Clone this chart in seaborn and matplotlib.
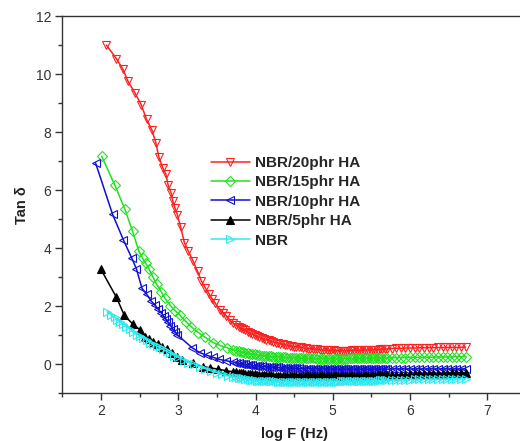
import numpy as np
import pandas as pd
import matplotlib
matplotlib.use("Agg")
import matplotlib.pyplot as plt
import seaborn as sns
from matplotlib.ticker import MultipleLocator

sns.set_style("ticks")
plt.rcParams['font.family'] = ['Liberation Sans', 'DejaVu Sans']

# shared high-frequency x grid (log F)
tail_x = [3.75, 3.78, 3.81, 3.84, 3.87, 3.90, 3.93, 3.96, 3.99, 4.02,
          4.05, 4.08, 4.11, 4.14, 4.17, 4.20, 4.23, 4.26, 4.29, 4.32,
          4.35, 4.38, 4.41, 4.44, 4.47, 4.50, 4.53, 4.56, 4.59, 4.62,
          4.65, 4.68, 4.71, 4.74, 4.77, 4.80, 4.83, 4.86, 4.89, 4.92,
          4.95, 4.98, 5.01, 5.04, 5.07, 5.10, 5.13, 5.16, 5.19, 5.22,
          5.25, 5.28, 5.31, 5.34, 5.37, 5.40, 5.43, 5.46, 5.49, 5.52,
          5.55, 5.58, 5.61, 5.64, 5.67, 5.70,
          5.76, 5.82, 5.88, 5.94, 6.00, 6.06, 6.12, 6.18, 6.24, 6.30, 6.36, 6.42, 6.48,
          6.54, 6.60, 6.66, 6.72]

# NBR/20phr HA
hx_20 = [2.07, 2.20, 2.28, 2.35, 2.44, 2.52, 2.59, 2.66, 2.71, 2.75, 2.80, 2.84, 2.87, 2.91,
         2.93, 2.96, 2.99, 3.03, 3.08, 3.13, 3.19, 3.25, 3.30, 3.35, 3.40, 3.44, 3.48, 3.54,
         3.58, 3.62, 3.67, 3.71]
hy_20 = [11.0, 10.53, 10.19, 9.75, 9.35, 8.95, 8.44, 8.07, 7.64, 7.13, 6.77, 6.55, 6.17, 5.89,
         5.62, 5.37, 5.14, 4.74, 4.19, 3.90, 3.57, 3.20, 2.87, 2.63, 2.42, 2.25, 2.10, 1.88,
         1.78, 1.67, 1.52, 1.42]
ty_20 = [1.35, 1.30, 1.25, 1.21, 1.17, 1.12, 1.08, 1.04, 1.00, 0.96,
         0.93, 0.90, 0.87, 0.85, 0.82, 0.79, 0.77, 0.75, 0.73, 0.71,
         0.69, 0.67, 0.66, 0.64, 0.62, 0.61, 0.60, 0.59, 0.58, 0.57,
         0.55, 0.54, 0.54, 0.53, 0.52, 0.51, 0.50, 0.50, 0.49, 0.49,
         0.48, 0.48, 0.48, 0.47, 0.47, 0.47, 0.47, 0.47, 0.47, 0.47,
         0.48, 0.48, 0.48, 0.48, 0.48, 0.49, 0.49, 0.49, 0.49, 0.50,
         0.50, 0.50, 0.51, 0.51, 0.52, 0.53,
         0.54, 0.55, 0.55, 0.56, 0.56, 0.56, 0.57, 0.57, 0.57, 0.57, 0.58, 0.58, 0.58, 0.58,
         0.58, 0.59, 0.59]

# NBR/15phr HA
hx_15 = [2.01, 2.18, 2.31, 2.41, 2.49, 2.54, 2.58, 2.62, 2.67, 2.72, 2.78, 2.83, 2.90, 2.96,
         3.02, 3.10, 3.17, 3.26, 3.35, 3.45, 3.54, 3.63, 3.71]
hy_15 = [7.17, 6.17, 5.34, 4.58, 3.90, 3.65, 3.48, 3.30, 3.02, 2.76, 2.50, 2.27, 2.02, 1.85,
         1.70, 1.47, 1.29, 1.09, 0.93, 0.75, 0.65, 0.57, 0.50]
ty_15 = [0.47, 0.45, 0.43, 0.41, 0.39, 0.38, 0.36, 0.35, 0.34, 0.32,
         0.31, 0.30, 0.29, 0.29, 0.28, 0.27, 0.26, 0.26, 0.25, 0.25,
         0.24, 0.24, 0.23, 0.23, 0.22, 0.22, 0.22, 0.21, 0.21, 0.21,
         0.20, 0.20, 0.20, 0.20, 0.20, 0.19, 0.19, 0.19, 0.19, 0.19,
         0.19, 0.19, 0.19, 0.19, 0.19, 0.19, 0.19, 0.19, 0.19, 0.20,
         0.20, 0.20, 0.20, 0.20, 0.20, 0.21, 0.21, 0.21, 0.21, 0.21,
         0.22, 0.22, 0.22, 0.22, 0.22, 0.22,
         0.23, 0.23, 0.23, 0.23, 0.24, 0.24, 0.24, 0.24, 0.24, 0.25, 0.25, 0.25, 0.25, 0.25,
         0.26, 0.26, 0.26]

# NBR/10phr HA
hx_10 = [1.93, 2.15, 2.29, 2.40, 2.46, 2.53, 2.59, 2.65, 2.70, 2.74, 2.78, 2.81, 2.84, 2.87,
         2.90, 2.93, 2.96, 2.99, 3.18, 3.28, 3.37, 3.45, 3.53, 3.62, 3.71]
hy_10 = [6.94, 5.17, 4.29, 3.65, 3.28, 2.62, 2.42, 2.18, 2.04, 1.90, 1.78, 1.66, 1.55, 1.45,
         1.33, 1.22, 1.12, 1.01, 0.57, 0.40, 0.31, 0.24, 0.17, 0.12, 0.08]
ty_10 = [0.05, 0.04, 0.02, 0.01, 0.00, -0.01, -0.02, -0.04, -0.05, -0.06,
         -0.07, -0.07, -0.08, -0.09, -0.09, -0.10, -0.10, -0.11, -0.11, -0.12,
         -0.12, -0.13, -0.13, -0.13, -0.14, -0.14, -0.14, -0.14, -0.15, -0.15,
         -0.15, -0.15, -0.15, -0.16, -0.16, -0.16, -0.16, -0.16, -0.16, -0.16,
         -0.17, -0.17, -0.17, -0.17, -0.17, -0.17, -0.17, -0.17, -0.17, -0.17,
         -0.17, -0.17, -0.17, -0.17, -0.17, -0.17, -0.17, -0.17, -0.17, -0.17,
         -0.17, -0.17, -0.17, -0.17, -0.17, -0.17,
         -0.16, -0.16, -0.16, -0.16, -0.16, -0.16, -0.16, -0.16, -0.16, -0.16, -0.16, -0.16,
         -0.16, -0.16, -0.16, -0.16, -0.16]

# NBR/5phr HA
hx_5 = [2.00, 2.20, 2.30, 2.41, 2.51, 2.57, 2.62, 2.68, 2.74, 2.79, 2.85, 2.92, 2.99, 3.05,
        3.19, 3.32, 3.41, 3.52, 3.62, 3.71]
hy_5 = [3.27, 2.31, 1.70, 1.39, 1.18, 0.95, 0.86, 0.78, 0.69, 0.61, 0.52, 0.38, 0.26, 0.15,
        0.03, -0.08, -0.12, -0.17, -0.22, -0.26]
ty_5 = [-0.28, -0.29, -0.30, -0.31, -0.32, -0.33, -0.34, -0.34, -0.35, -0.36,
        -0.36, -0.37, -0.37, -0.38, -0.38, -0.38, -0.39, -0.39, -0.39, -0.40,
        -0.40, -0.40, -0.40, -0.41, -0.41, -0.41, -0.41, -0.41, -0.41, -0.42,
        -0.42, -0.42, -0.42, -0.42, -0.42, -0.42, -0.42, -0.42, -0.42, -0.42,
        -0.42, -0.42, -0.42, -0.42, -0.42, -0.41, -0.41, -0.41, -0.41, -0.41,
        -0.41, -0.40, -0.40, -0.40, -0.40, -0.40, -0.39, -0.39, -0.39, -0.39,
        -0.39, -0.38, -0.38, -0.38, -0.38, -0.38,
        -0.37, -0.37, -0.36, -0.36, -0.35, -0.35, -0.34, -0.34, -0.33, -0.33, -0.33, -0.32,
        -0.32, -0.31, -0.31, -0.30, -0.30]

# NBR
hx_0 = [2.08, 2.13, 2.18, 2.21, 2.25, 2.29, 2.33, 2.38, 2.42, 2.47, 2.51, 2.55, 2.60, 2.64,
        2.68, 2.72, 2.76, 2.80, 2.85, 2.90, 2.95, 3.00, 3.07, 3.13, 3.20, 3.28, 3.35, 3.42,
        3.50, 3.57, 3.64, 3.71]
hy_0 = [1.81, 1.70, 1.62, 1.53, 1.46, 1.39, 1.30, 1.22, 1.10, 1.02, 0.96, 0.91, 0.84, 0.74,
        0.69, 0.64, 0.58, 0.52, 0.45, 0.38, 0.30, 0.24, 0.15, 0.06, 0.02, -0.08, -0.15, -0.22,
        -0.29, -0.35, -0.40, -0.43]
ty_0 = [-0.45, -0.46, -0.48, -0.49, -0.50, -0.52, -0.53, -0.54, -0.55, -0.56,
        -0.56, -0.57, -0.57, -0.58, -0.58, -0.59, -0.59, -0.59, -0.60, -0.60,
        -0.60, -0.60, -0.60, -0.60, -0.60, -0.60, -0.60, -0.60, -0.60, -0.60,
        -0.60, -0.60, -0.60, -0.60, -0.60, -0.60, -0.60, -0.60, -0.60, -0.60,
        -0.60, -0.60, -0.60, -0.60, -0.60, -0.59, -0.59, -0.59, -0.59, -0.59,
        -0.58, -0.58, -0.58, -0.58, -0.57, -0.57, -0.57, -0.57, -0.56, -0.56,
        -0.56, -0.56, -0.55, -0.55, -0.55, -0.55,
        -0.54, -0.54, -0.53, -0.53, -0.53, -0.52, -0.52, -0.52, -0.52, -0.51, -0.51, -0.51,
        -0.51, -0.50, -0.50, -0.50, -0.50]

labels = ["NBR/20phr HA", "NBR/15phr HA", "NBR/10phr HA", "NBR/5phr HA", "NBR"]
series = [(hx_20, hy_20, ty_20), (hx_15, hy_15, ty_15), (hx_10, hy_10, ty_10),
          (hx_5, hy_5, ty_5), (hx_0, hy_0, ty_0)]
colors = ["#ff2020", "#22e022", "#1010d0", "#000000", "#30e8f0"]
markers = ["v", "D", "<", "^", ">"]
msizes = [6, 5, 6, 6, 6]
filled = [False, False, False, True, False]

fig = plt.figure(figsize=(5.20, 4.41), dpi=100)
ax = fig.add_axes([62.3 / 520, 1 - 393.3 / 441, (526 - 62.3) / 520, (393.3 - 16) / 441])

for lab, (hx, hy, ty), c, m, ms, f in zip(labels, series, colors, markers, msizes, filled):
    df = pd.DataFrame({"x": hx + tail_x, "y": hy + ty})
    sns.lineplot(data=df, x="x", y="y", ax=ax, sort=False, estimator=None,
                 color=c, linewidth=1.1, marker=m, markersize=ms,
                 markerfacecolor=(c if f else "none"), markeredgecolor=c,
                 markeredgewidth=0.8, label=lab)

ax.set_xlim(1.5, 7.5)
ax.set_ylim(-1, 12)
ax.xaxis.set_major_locator(MultipleLocator(1))
ax.xaxis.set_minor_locator(MultipleLocator(0.5))
ax.yaxis.set_major_locator(MultipleLocator(2))
ax.yaxis.set_minor_locator(MultipleLocator(1))
ax.tick_params(which="major", direction="out", length=5, width=1, labelsize=10, pad=3,
               labelcolor="#333333", color="#333333")
ax.tick_params(which="minor", direction="out", length=3, width=1, color="#333333")
ax.tick_params(top=False, right=False)
for s in ax.spines.values():
    s.set_linewidth(1.0)
    s.set_color("#333333")

ax.set_xlabel("log F (Hz)", fontsize=10.5, fontweight="bold", labelpad=6, color="#222222")
ax.set_ylabel("Tan δ", fontsize=10.5, fontweight="bold", labelpad=5, color="#222222")

leg = ax.legend(loc="upper left", bbox_to_anchor=(0.29, 0.665), frameon=False,
                handlelength=2.6, handletextpad=0.3, labelspacing=0.35,
                prop={"weight": "bold", "size": 11})

fig.savefig("out.png", dpi=100)
